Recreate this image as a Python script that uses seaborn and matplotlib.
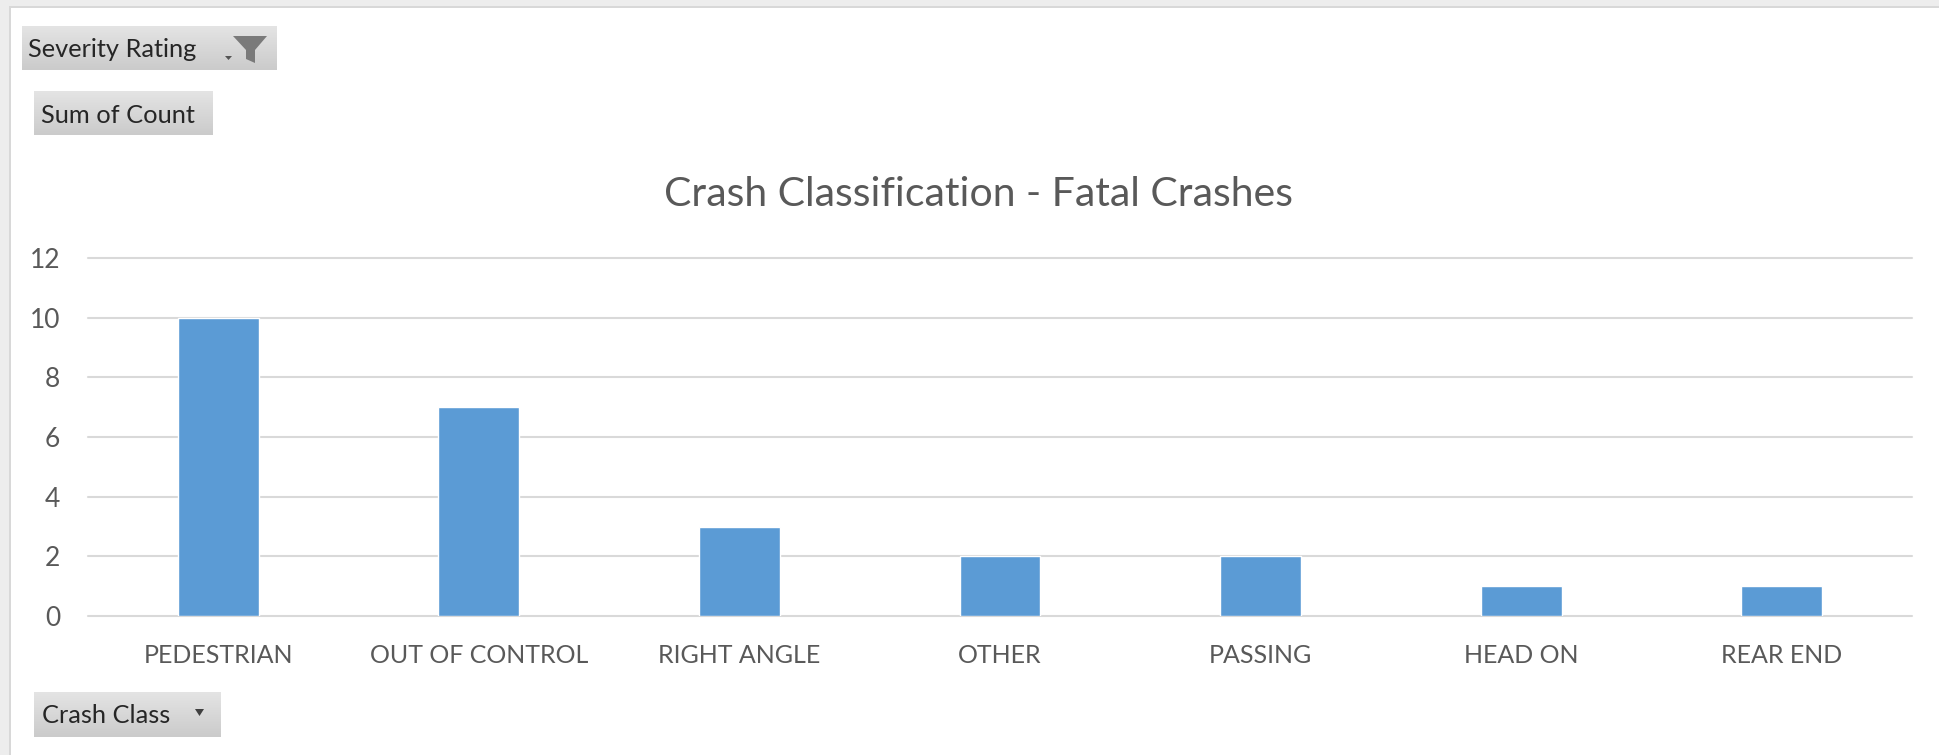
import matplotlib
matplotlib.use("Agg")
import matplotlib.pyplot as plt
import seaborn as sns
import numpy as np
import pandas as pd
from matplotlib.patches import Polygon, Rectangle
from matplotlib.colors import LinearSegmentedColormap

# ---- data ----
categories = ["PEDESTRIAN", "OUT OF CONTROL", "RIGHT ANGLE", "OTHER",
              "PASSING", "HEAD ON", "REAR END"]
counts = [10, 7, 3, 2, 2, 1, 1]
y_ticks = [0, 2, 4, 6, 8, 10, 12]
title_text = "Crash Classification - Fatal Crashes"
filter_label = "Severity Rating"
value_label = "Sum of Count"
axis_label = "Crash Class"

W, H, DPI = 1939, 755, 100
sns.set_style("white")
plt.rcParams["font.family"] = ["Lato", "DejaVu Sans"]

fig = plt.figure(figsize=(W / DPI, H / DPI), dpi=DPI, facecolor="white")


def fx(x):
    return x / W


def fy(y):
    return 1 - y / H


# outer frame (grey band at top and left)
fig.patches.append(Rectangle((0, fy(7)), 1, 7 / H, transform=fig.transFigure,
                             facecolor="#EDEDED", edgecolor="none", zorder=0))
fig.patches.append(Rectangle((0, 0), 10 / W, 1, transform=fig.transFigure,
                             facecolor="#EDEDED", edgecolor="none", zorder=0))
fig.patches.append(Rectangle((fx(9), 0), 1.5 / W, fy(6), transform=fig.transFigure,
                             facecolor="#D8D8D8", edgecolor="none", zorder=0))
fig.patches.append(Rectangle((fx(9), fy(7.5)), 1, 1.5 / H, transform=fig.transFigure,
                             facecolor="#D8D8D8", edgecolor="none", zorder=0))

# ---- main chart ----
ax = fig.add_axes([fx(88), fy(616), (1912 - 88) / W, (616 - 258) / H])
df = pd.DataFrame({"cls": categories, "count": counts})
sns.barplot(data=df, x="cls", y="count", color="#5B9BD5", saturation=1,
            width=0.31, ax=ax, zorder=3)
ax.set_xlim(-0.5, len(categories) - 0.5)
ax.set_ylim(0, 12)
ax.set_yticks(y_ticks)
ax.set_axisbelow(True)
ax.yaxis.grid(True, color="#D9D9D9", linewidth=1.5)
ax.xaxis.grid(False)
for ln in ax.get_ygridlines():
    ln.set_clip_on(False)
for s in ax.spines.values():
    s.set_visible(False)
ax.set_facecolor("none")
ax.set_xlabel("")
ax.set_ylabel("")
ax.tick_params(axis="both", length=0, labelcolor="#595959")
ax.tick_params(axis="x", pad=20, labelsize=18)
ax.tick_params(axis="y", pad=20, labelsize=19)

fig.text(fx(978), fy(206), title_text, ha="center", va="baseline",
         fontsize=29.5, color="#595959")

# ---- pivot buttons ----
btn_cmap = LinearSegmentedColormap.from_list("btn", ["#E4E4E4", "#CBCBCB"])


def button(x0, y0, x1, y1):
    bax = fig.add_axes([fx(x0), fy(y1), (x1 - x0) / W, (y1 - y0) / H])
    grad = np.linspace(0, 1, 64).reshape(-1, 1)
    bax.imshow(grad, aspect="auto", cmap=btn_cmap, extent=[0, 1, 0, 1],
               origin="upper", interpolation="bilinear")
    bax.set_axis_off()
    return bax


button(22, 26, 277, 70)
fig.text(fx(28), fy(57), filter_label, ha="left", va="baseline",
         fontsize=18.3, color="#262626")
# funnel icon
funnel = [(233, 36), (267, 36), (255, 50), (255, 63), (246, 59), (246, 50)]
fig.patches.append(Polygon([(fx(x), fy(y)) for x, y in funnel], closed=True,
                           transform=fig.transFigure, facecolor="#7A7A7A",
                           edgecolor="none", zorder=5))
small = [(225, 56), (232, 56), (228.5, 60)]
fig.patches.append(Polygon([(fx(x), fy(y)) for x, y in small], closed=True,
                           transform=fig.transFigure, facecolor="#555555",
                           edgecolor="none", zorder=5))

button(34, 91, 213, 135)
fig.text(fx(41), fy(123), value_label, ha="left", va="baseline",
         fontsize=18.3, color="#262626")

button(34, 692, 221, 737)
fig.text(fx(42), fy(723), axis_label, ha="left", va="baseline",
         fontsize=18.3, color="#262626")
arrow = [(195, 709), (204, 709), (199.5, 716)]
fig.patches.append(Polygon([(fx(x), fy(y)) for x, y in arrow], closed=True,
                           transform=fig.transFigure, facecolor="#404040",
                           edgecolor="none", zorder=5))

fig.savefig("out.png", dpi=DPI, facecolor="white")
